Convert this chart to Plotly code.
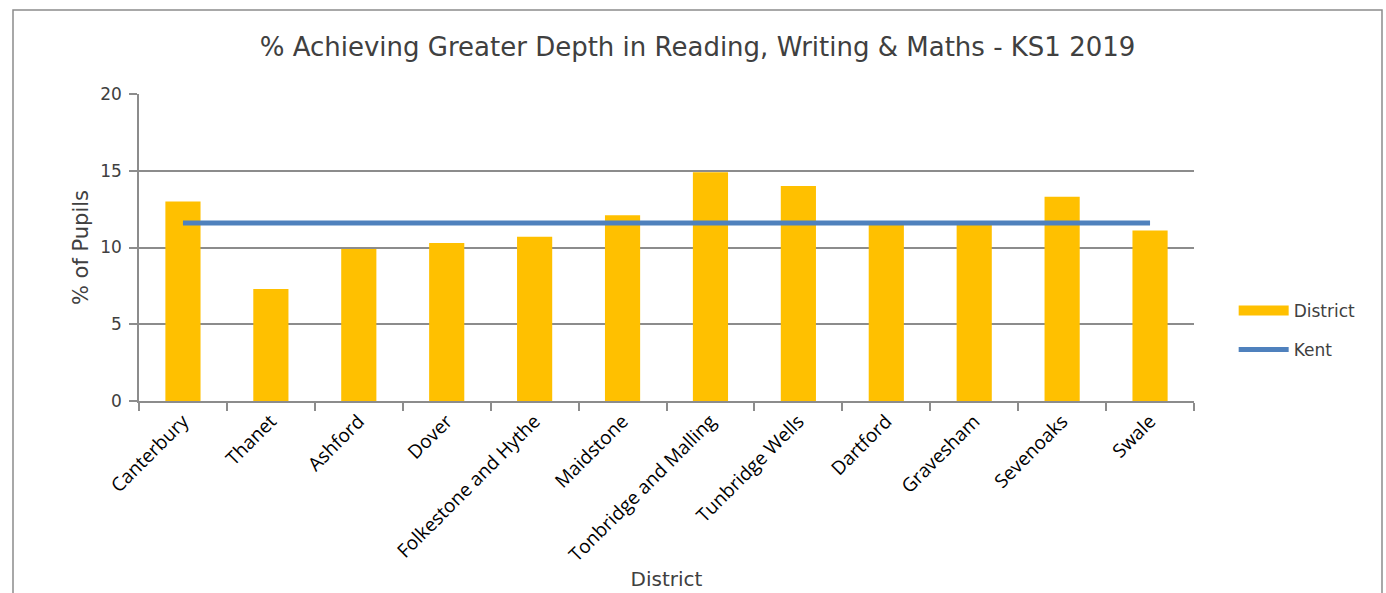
import plotly.graph_objects as go

districts = ["Canterbury", "Thanet", "Ashford", "Dover", "Folkestone and Hythe",
             "Maidstone", "Tonbridge and Malling", "Tunbridge Wells", "Dartford",
             "Gravesham", "Sevenoaks", "Swale"]
district_values = [13.0, 7.3, 9.9, 10.3, 10.7, 12.1, 14.9, 14.0, 11.5, 11.5, 13.3, 11.1]
kent_values = [11.6] * len(districts)
y_ticks = [0, 5, 10, 15, 20]

TXT = "#404040"
GRID = "#8c8c8c"
TFONT = "DejaVu Sans"

fig = go.Figure()
fig.add_trace(go.Bar(x=districts, y=district_values, name="District",
                     marker=dict(color="#FFC000", line=dict(width=0)),
                     width=0.4, showlegend=False))
fig.add_trace(go.Scatter(x=[None], y=[None], mode="lines", name="District",
                         line=dict(color="#FFC000", width=11), legendgroup="a"))
fig.add_trace(go.Scatter(x=districts, y=kent_values, mode="lines", name="Kent",
                         line=dict(color="#4F81BD", width=5), legendgroup="b"))

fig.update_layout(
    width=1386, height=593,
    margin=dict(l=139, r=192, t=94, b=192, autoexpand=False),
    paper_bgcolor="white", plot_bgcolor="white",
    title=dict(text="% Achieving Greater Depth in Reading, Writing & Maths - KS1 2019",
               x=(262 + 1133) / 2 / 1386, xanchor="center", y=1 - 47 / 593, yanchor="middle",
               font=dict(family=TFONT, size=26, color=TXT)),
    legend=dict(x=1.0376, y=0.23, xanchor="left", yanchor="middle", itemwidth=50,
                font=dict(family=TFONT, size=17, color=TXT), tracegroupgap=14,
                bgcolor="rgba(0,0,0,0)"),
    shapes=[dict(type="rect", xref="paper", yref="paper",
                 x0=(13 - 139) / 1055, x1=(1382 - 139) / 1055,
                 y0=(401 - 620) / 307, y1=(401 - 10) / 307,
                 line=dict(color="#8c8c8c", width=1.5), fillcolor="rgba(0,0,0,0)", layer="below")],
)
fig.update_xaxes(
    tickangle=-45, tickson="boundaries", ticks="outside", ticklen=8, tickcolor=GRID, tickwidth=1.5,
    showline=True, linecolor=GRID, linewidth=1.5, showgrid=False,
    tickfont=dict(family="Open Sans", size=19, color="black"),
    title=dict(text="District", font=dict(family=TFONT, size=20, color=TXT), standoff=2),
)
fig.update_yaxes(
    range=[0, 20], tickvals=y_ticks, ticks="outside", ticklen=8, tickcolor=GRID, tickwidth=1.5,
    showline=True, linecolor=GRID, linewidth=1.5, showgrid=True, gridcolor=GRID, gridwidth=1.5,
    zeroline=False, ticklabelstandoff=4,
    tickfont=dict(family=TFONT, size=17, color=TXT),
    title=dict(text="% of Pupils", font=dict(family=TFONT, size=21, color=TXT), standoff=6),
)

fig.write_html("out.html", config={"displayModeBar": False},
               post_script="document.body.style.margin='0';")
